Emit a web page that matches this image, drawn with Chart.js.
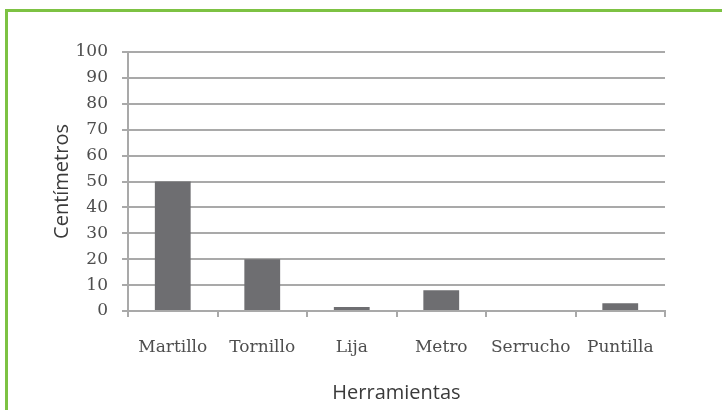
<!DOCTYPE html>
<html>
<head>
<meta charset="utf-8">
<script src="https://cdn.jsdelivr.net/npm/chart.js@4"></script>
<style>
  html, body { margin: 0; padding: 0; background: #fff; }
  #wrap { position: relative; width: 722px; height: 410px; overflow: hidden; }
  #frame { position: absolute; left: 5px; top: 9px; width: 800px; height: 500px;
           border-left: 3px solid #7dc243; border-top: 3px solid #7dc243; }
  canvas { position: absolute; left: 0; top: 0; }
</style>
</head>
<body>
<div id="wrap">
  <div id="frame"></div>
  <canvas id="chart" width="722" height="410"></canvas>
</div>
<script>
const categories = ['Martillo', 'Tornillo', 'Lija', 'Metro', 'Serrucho', 'Puntilla'];
const values = [50, 20, 1.5, 8, 0, 3];
const yTitle = 'Centímetros';
const xTitle = 'Herramientas';

const gridGray = '#a9a9a9';
const textGray = '#4e4e4e';

const config = {
  type: 'bar',
  data: {
    labels: categories,
    datasets: [{
      data: values,
      backgroundColor: '#6e6e71',
      borderWidth: 0,
      barPercentage: 0.4,
      categoryPercentage: 1
    }]
  },
  options: {
    responsive: false,
    animation: false,
    layout: { padding: { left: 0, top: 52, right: 57, bottom: 0 } },
    plugins: { legend: { display: false }, tooltip: { enabled: false } },
    scales: {
      x: {
        afterFit: (scale) => { scale.height = 99; },
        grid: { drawOnChartArea: false, drawTicks: true, tickLength: 6, color: gridGray, lineWidth: 2 },
        border: { color: gridGray, width: 2 },
        ticks: { color: textGray, padding: 20, font: { family: 'DejaVu Serif', size: 17 } },
        title: {
          display: true, text: xTitle, color: '#3a3a3a',
          font: { family: 'Open Sans', size: 20 }, padding: { top: 0, bottom: 5 }
        }
      },
      y: {
        min: 0, max: 100,
        afterFit: (scale) => { scale.width = 128; },
        grid: { color: gridGray, lineWidth: 2, tickLength: 6 },
        border: { color: gridGray, width: 2 },
        ticks: { stepSize: 10, color: textGray, padding: 14, font: { family: 'DejaVu Serif', size: 17 } },
        title: {
          display: true, text: yTitle, color: '#3a3a3a',
          font: { family: 'Open Sans', size: 20 }, padding: { top: 50, bottom: 0 }
        }
      }
    }
  }
};

new Chart(document.getElementById('chart'), config);
</script>
</body>
</html>
